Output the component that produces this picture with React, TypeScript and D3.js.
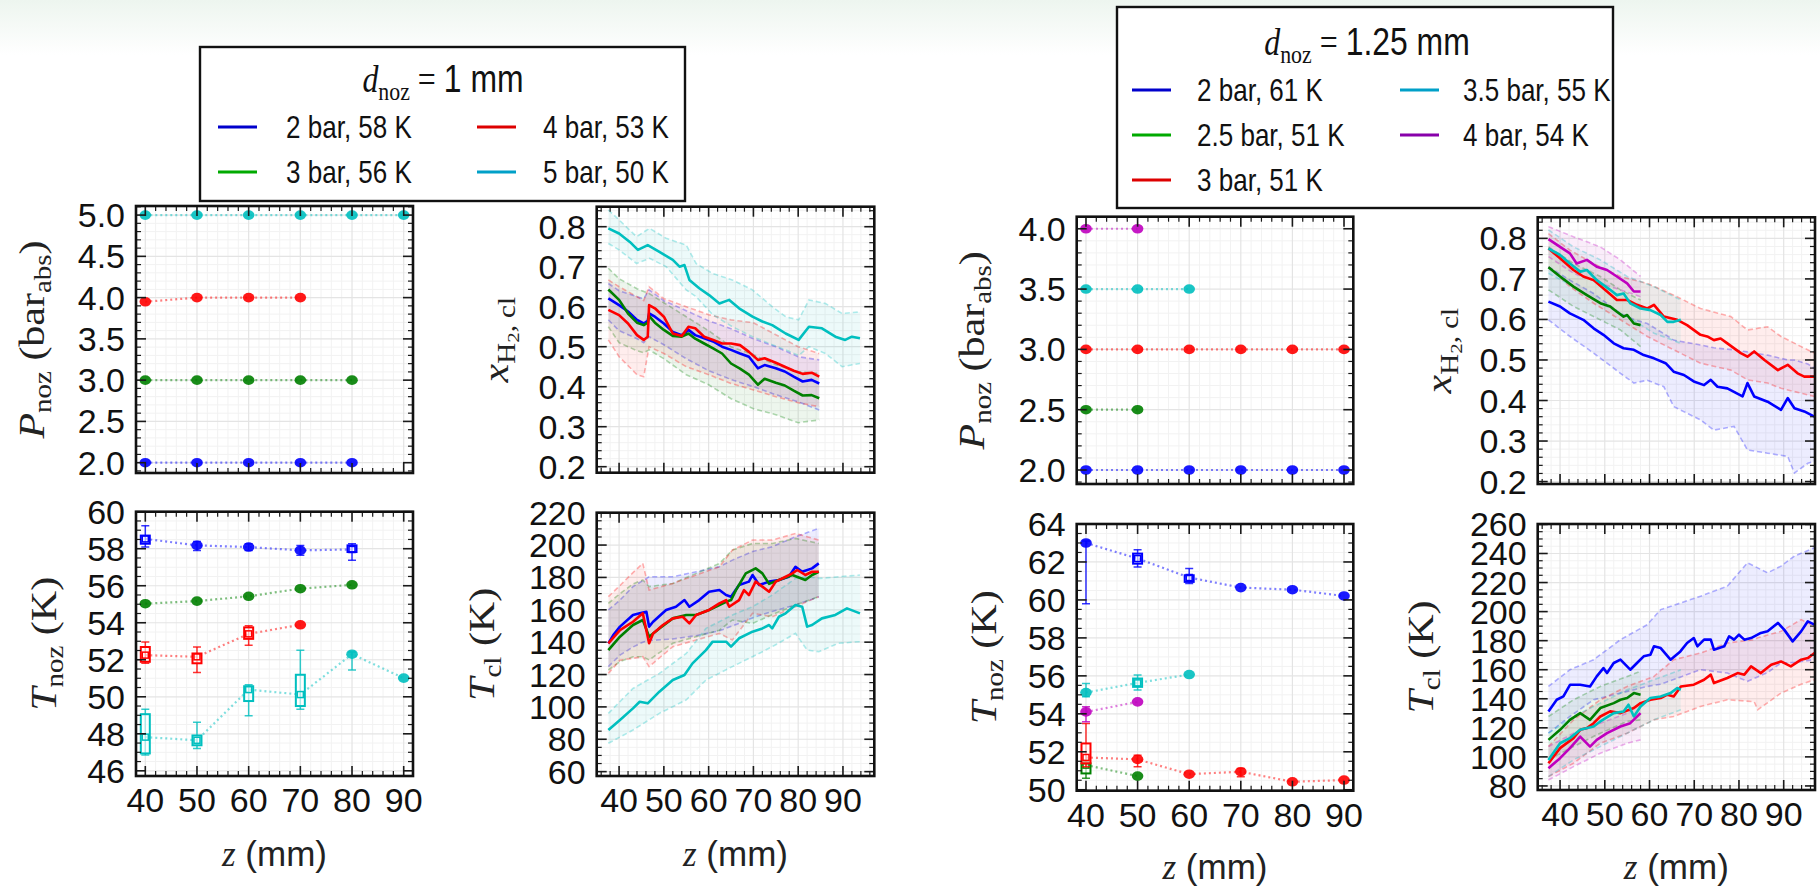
import React from 'react';
import * as d3 from 'd3';

const SANS = "'Liberation Sans', Arial, Helvetica, sans-serif";
const SERIF = "'Liberation Serif', 'Times New Roman', serif";
const BLUE = '#0000ff', GREEN = '#008000', RED = '#ff0000', CYAN = '#00bfbf', MAG = '#bf00bf';
const L_BLUE = '#0000cc', L_GREEN = '#00aa00', L_RED = '#dd0000', L_CYAN = '#00a0c8', L_MAG = '#8800aa';

// ================= DATA =================
const zStations = [40, 50, 60, 70, 80, 90];

// legend labels
const legend1mm = ['2 bar, 58 K', '3 bar, 56 K', '4 bar, 53 K', '5 bar, 50 K'];
const legend125 = ['2 bar, 61 K', '2.5 bar, 51 K', '3 bar, 51 K', '3.5 bar, 55 K', '4 bar, 54 K'];

// tick labels
const xTicksZ = [40, 50, 60, 70, 80, 90];
const yTicksP1 = [2.0, 2.5, 3.0, 3.5, 4.0, 4.5, 5.0];
const yTicksP2 = [2.0, 2.5, 3.0, 3.5, 4.0];
const yTicksT1 = [46, 48, 50, 52, 54, 56, 58, 60];
const yTicksT2 = [50, 52, 54, 56, 58, 60, 62, 64];
const yTicksX = [0.2, 0.3, 0.4, 0.5, 0.6, 0.7, 0.8];
const yTicksC1 = [60, 80, 100, 120, 140, 160, 180, 200, 220];
const yTicksC2 = [80, 100, 120, 140, 160, 180, 200, 220, 240, 260];

// ---- d = 1 mm : nozzle pressure ----
const pnoz1_2bar = [2.0, 2.0, 2.0, 2.0, 2.0];
const pnoz1_3bar = [3.0, 3.0, 3.0, 3.0, 3.0];
const pnoz1_4bar = [3.95, 4.0, 4.0, 4.0];
const pnoz1_5bar = [5.0, 5.0, 5.0, 5.0, 5.0, 5.0];
// ---- d = 1.25 mm : nozzle pressure ----
const pnoz2_2bar = [2.0, 2.0, 2.0, 2.0, 2.0, 2.0];
const pnoz2_25bar = [2.5, 2.5];
const pnoz2_3bar = [3.0, 3.0, 3.0, 3.0, 3.0, 3.0];
const pnoz2_35bar = [3.5, 3.5, 3.5];
const pnoz2_4bar = [4.0, 4.0];

// ---- nozzle temperature: [z, mean, whiskerLo, whiskerHi, boxLo, boxHi] ----
type Pt = (number | null)[];
const tnoz1_2bar: Pt[] = [
  [40, 58.53, 58.09, 59.24, 58.27, 58.71], [50, 58.18, 57.91, 58.39, null, null],
  [60, 58.09, 57.91, 58.27, null, null], [70, 57.91, 57.65, 58.18, null, null],
  [80, 57.96, 57.38, 58.27, 57.82, 58.18]];
const tnoz1_3bar: Pt[] = [[40, 55.03], [50, 55.17], [60, 55.43], [70, 55.84], [80, 56.05]];
const tnoz1_4bar: Pt[] = [
  [40, 52.25, 51.81, 52.96, 51.89, 52.69], [50, 52.16, 51.31, 52.69, 51.81, 52.34],
  [60, 53.4, 52.78, 53.84, 53.13, 53.75], [70, 53.89]];
const tnoz1_5bar: Pt[] = [
  [40, 47.82, 46.85, 49.33, 46.94, 49.06], [50, 47.65, 47.2, 48.62, 47.38, 47.91],
  [60, 50.39, 48.97, 50.65, 49.77, 50.57], [70, 50.12, 49.33, 52.51, 49.5, 51.19],
  [80, 52.3, 51.45, 52.42, null, null], [90, 51.01]];
const tnoz2_2bar: Pt[] = [
  [40, 63.0, 59.8, 63.1, null, null], [50, 62.18, 61.74, 62.65, 61.91, 62.44],
  [60, 61.18, 60.86, 61.65, 60.95, 61.3], [70, 60.65], [80, 60.54], [90, 60.21]];
const tnoz2_25bar: Pt[] = [[40, 51.3, 50.6, 51.56, 50.86, 51.39], [50, 50.72]];
const tnoz2_3bar: Pt[] = [
  [40, 51.7, 51.21, 53.49, 51.39, 52.44], [50, 51.6, 51.21, 51.82, null, null],
  [60, 50.82], [70, 50.95, 50.68, 51.12, null, null], [80, 50.42], [90, 50.51]];
const tnoz2_35bar: Pt[] = [[40, 55.12, 54.9, 55.6, null, null], [50, 55.63, 55.25, 56.04, 55.42, 55.86], [60, 56.07]];
const tnoz2_4bar: Pt[] = [[40, 54.1, 53.58, 54.37, null, null], [50, 54.63]];

// ---- d = 1 mm : x_H2,cl ----
const zXh1 = [37.6, 40, 42, 44, 45.5, 46.4, 46.7, 48, 50, 52, 54, 55.5, 57, 59, 61, 63, 65, 67, 69, 71, 72.5, 75, 77, 79, 81, 83, 84.7];
const xh1_2bar = [0.621, 0.604, 0.588, 0.567, 0.558, 0.565, 0.583, 0.575, 0.558, 0.537, 0.529, 0.542, 0.529, 0.521, 0.513, 0.5, 0.492, 0.483, 0.475, 0.446, 0.454, 0.446, 0.438, 0.425, 0.413, 0.417, 0.408];
const xh1_3bar = [0.643, 0.617, 0.583, 0.56, 0.554, 0.56, 0.577, 0.56, 0.542, 0.527, 0.525, 0.533, 0.52, 0.508, 0.496, 0.483, 0.458, 0.445, 0.43, 0.405, 0.42, 0.41, 0.403, 0.39, 0.378, 0.379, 0.371];
const xh1_4bar = [0.592, 0.579, 0.558, 0.529, 0.517, 0.525, 0.604, 0.596, 0.575, 0.533, 0.527, 0.55, 0.546, 0.525, 0.517, 0.508, 0.508, 0.504, 0.487, 0.467, 0.471, 0.46, 0.45, 0.44, 0.432, 0.435, 0.425];
const zXh1c = [37.6, 40, 42.4, 44.2, 46.4, 49, 52, 53.5, 54.6, 55.7, 57.9, 60.1, 62.4, 64.6, 66.8, 69.8, 72, 74.2, 77.2, 80.1, 82.4, 85.3, 88.3, 90.5, 92, 93.8];
const xh1_5bar = [0.796, 0.783, 0.762, 0.742, 0.754, 0.737, 0.717, 0.70, 0.704, 0.667, 0.646, 0.629, 0.608, 0.617, 0.596, 0.575, 0.563, 0.554, 0.533, 0.517, 0.55, 0.546, 0.525, 0.517, 0.525, 0.521];
const zXh1band = [37.6, 40, 44, 45.5, 46.7, 50, 55, 60, 65, 70, 75, 80, 84.7];
const xh1_2bar_hi = [0.658, 0.64, 0.625, 0.62, 0.642, 0.615, 0.59, 0.565, 0.545, 0.52, 0.5, 0.475, 0.467];
const xh1_2bar_lo = [0.567, 0.54, 0.52, 0.51, 0.525, 0.505, 0.47, 0.44, 0.418, 0.4, 0.38, 0.362, 0.342];
const xh1_3bar_hi = [0.696, 0.67, 0.645, 0.638, 0.633, 0.61, 0.575, 0.54, 0.5, 0.48, 0.455, 0.438, 0.433];
const xh1_3bar_lo = [0.55, 0.51, 0.49, 0.485, 0.492, 0.47, 0.43, 0.405, 0.37, 0.345, 0.33, 0.31, 0.317];
const xh1_4bar_hi = [0.667, 0.65, 0.625, 0.615, 0.65, 0.62, 0.6, 0.58, 0.567, 0.56, 0.53, 0.5, 0.483];
const xh1_4bar_lo = [0.517, 0.475, 0.43, 0.425, 0.5, 0.483, 0.45, 0.43, 0.408, 0.392, 0.375, 0.36, 0.35];
const zXh1cband = [37.6, 40, 43.9, 46.8, 50.5, 55, 57.2, 60.9, 65.3, 69.8, 74.2, 77.2, 80.1, 82.4, 86.1, 89.8, 93.8];
const xh1_5bar_hi = [0.842, 0.817, 0.775, 0.796, 0.771, 0.754, 0.708, 0.683, 0.667, 0.642, 0.6, 0.575, 0.567, 0.617, 0.608, 0.583, 0.587];
const xh1_5bar_lo = [0.758, 0.742, 0.708, 0.721, 0.7, 0.642, 0.625, 0.58, 0.55, 0.525, 0.505, 0.492, 0.478, 0.5, 0.483, 0.45, 0.458];

// ---- d = 1 mm : T_cl ----
const zTc1_2bar = [37.6, 38.7, 40.2, 43.1, 44.6, 46.1, 46.7, 47.6, 50.5, 52.7, 54.6, 55.7, 57.9, 60.1, 62.4, 63.9, 65, 66.8, 69, 69.8, 71.3, 73.5, 75.7, 77.9, 79.4, 80.9, 83.1, 84.6];
const tc1_2bar = [139.3, 144.4, 149.6, 156.8, 157.8, 158.8, 149.6, 152.6, 159.9, 161.9, 166, 161.9, 166, 171.2, 172.2, 169.1, 168.1, 175.3, 177.4, 181.5, 175.3, 177.4, 178.4, 180.4, 186.6, 183.5, 185.6, 188.7];
const zTc1_3bar = [37.6, 40.2, 43.1, 45.3, 46.7, 49, 52, 55, 57.2, 60.1, 63.9, 65, 66.1, 68.3, 70.5, 72, 73.5, 75.7, 78.7, 81.6, 83.1, 84.6];
const tc1_3bar = [135.1, 143.4, 150.6, 153.7, 143.4, 148.5, 154.7, 156.8, 156.8, 159.9, 165, 166, 172.2, 182.5, 185.6, 182.5, 176, 178.4, 181.5, 178.4, 181.5, 183.5];
const zTc1_4bar = [37.6, 40.2, 43.1, 45.3, 46.7, 47.6, 49.8, 52, 54.2, 55.7, 57.2, 60.1, 62.4, 63.9, 64.6, 66.8, 67.9, 69, 70.5, 72, 73.5, 75, 77.2, 78.7, 79.8, 81.6, 83.1, 84.6];
const tc1_4bar = [139.3, 147.5, 152.6, 157.8, 139.3, 145.4, 150.6, 154.7, 155.7, 151.6, 156.8, 159.9, 164, 166, 161.9, 166, 172.2, 169.1, 177.4, 174.3, 171.2, 177.4, 180.4, 182.5, 184.6, 181.5, 183.5, 183.5];
const zTc1_5bar = [37.6, 40.2, 43.1, 44.6, 46.4, 49, 52, 54.6, 56.4, 59.4, 60.9, 63.9, 65, 66.8, 69.8, 72, 73.5, 74.2, 75.7, 77.2, 79.4, 80.9, 82, 83.1, 85.3, 88.3, 90.9, 93.8];
const tc1_5bar = [85.7, 91.9, 99.1, 103.2, 102.2, 109.4, 116.6, 119.7, 126.9, 135.1, 140.3, 140.3, 137.2, 142.4, 146.5, 148.5, 150.6, 148.5, 155.7, 157.8, 162.9, 161.9, 149.6, 150.6, 154.7, 156.8, 160.9, 157.8];
const zTc1band = [37.6, 40.2, 43.1, 45.3, 46.7, 52, 57.2, 62.4, 65.3, 69.8, 74.2, 79.4, 84.6];
const tc1_2bar_hi = [159.9, 166, 174.3, 178, 180.4, 180.4, 183.5, 186.6, 190.7, 196, 199, 205.1, 210.3];
const tc1_2bar_lo = [124.9, 132, 137, 140, 141, 142, 144, 147, 150, 155, 159, 163, 168];
const tc1_3bar_hi = [164, 170, 176, 178.4, 174.3, 176.3, 182.5, 188.6, 196.9, 201, 201, 204.1, 201];
const tc1_3bar_lo = [122.8, 128, 131, 131, 129, 139.3, 143.4, 147.4, 153.7, 151.6, 157, 163, 168.1];
const tc1_4bar_hi = [168.1, 175, 183, 188.7, 172.2, 176.3, 181.5, 186.6, 196.9, 203.1, 203.1, 207.2, 203.1];
const tc1_4bar_lo = [120.7, 128.9, 130, 131, 124.9, 137.2, 141.3, 145.4, 141.3, 157.8, 155.7, 161.9, 168.1];
const zTc1cband = [37.6, 43.1, 49, 55, 59.4, 65.3, 69.8, 74.2, 79.4, 82, 84.6, 89, 93.8];
const tc1_5bar_hi = [96, 111.4, 120.7, 133, 148.5, 156.8, 161.9, 169.1, 179.4, 180.4, 179.4, 180.4, 181.5];
const tc1_5bar_lo = [77.5, 85.7, 96, 104.3, 116.6, 124.9, 131, 137.2, 145.4, 135.1, 134.1, 139.3, 140.3];

// ---- d = 1.25 mm : x_H2,cl ----
const zXh2_2bar = [37.4, 40, 42.2, 45.2, 47.5, 49.7, 52, 54.2, 56.5, 58.7, 61, 63.6, 65.4, 67.7, 69.9, 72.2, 73.7, 75.2, 77.4, 80.8, 81.9, 83.4, 86.4, 89.4, 90.9, 92.4, 94.6, 96.9];
const xh2_2bar = [0.644, 0.632, 0.615, 0.599, 0.578, 0.562, 0.541, 0.529, 0.525, 0.512, 0.504, 0.492, 0.471, 0.463, 0.447, 0.438, 0.451, 0.434, 0.43, 0.41, 0.443, 0.41, 0.397, 0.377, 0.406, 0.381, 0.373, 0.36];
const zXh2_25bar = [37.4, 40, 43, 46, 49, 51.2, 52.7, 54.2, 55, 56.5, 58];
const xh2_25bar = [0.729, 0.706, 0.681, 0.66, 0.64, 0.632, 0.619, 0.607, 0.611, 0.59, 0.586];
const zXh2_3bar = [37.4, 40, 43, 45.2, 47.5, 50.5, 52.7, 55, 57.2, 59.5, 61, 63.2, 66.2, 68.4, 71.4, 72.9, 74.4, 75.9, 77.4, 80.4, 81.9, 83.4, 85.7, 88.7, 90.9, 93.1, 94.6, 96.9];
const xh2_3bar = [0.775, 0.751, 0.722, 0.706, 0.697, 0.669, 0.648, 0.648, 0.636, 0.627, 0.636, 0.607, 0.599, 0.586, 0.562, 0.558, 0.549, 0.553, 0.541, 0.517, 0.508, 0.521, 0.5, 0.475, 0.488, 0.467, 0.459, 0.459];
const zXh2_35bar = [37.4, 40, 42.2, 44.5, 46, 48.2, 51.2, 52.7, 54.2, 55.7, 58, 60.2, 62.5, 64, 65.4, 67];
const xh2_35bar = [0.775, 0.759, 0.738, 0.718, 0.722, 0.697, 0.673, 0.66, 0.664, 0.64, 0.627, 0.623, 0.611, 0.594, 0.594, 0.599];
const zXh2_4bar = [37.4, 40, 42.2, 43.7, 46, 48.2, 50.5, 52.7, 55, 56.5, 58];
const xh2_4bar = [0.798, 0.779, 0.763, 0.738, 0.747, 0.73, 0.722, 0.706, 0.689, 0.669, 0.669];
const zXh2band_2bar = [37.4, 42.2, 47.5, 53.5, 56.5, 59.5, 63.2, 65.4, 71.4, 74.4, 78.9, 81.9, 86.4, 90.9, 92.4, 95.4, 96.9];
const xh2_2bar_hi = [0.73, 0.697, 0.664, 0.615, 0.6, 0.59, 0.565, 0.549, 0.537, 0.53, 0.525, 0.52, 0.512, 0.5, 0.5, 0.49, 0.48];
const xh2_2bar_lo = [0.599, 0.558, 0.517, 0.467, 0.443, 0.45, 0.434, 0.385, 0.352, 0.327, 0.336, 0.278, 0.27, 0.262, 0.221, 0.245, 0.25];
const zXh2band_3bar = [37.4, 42.2, 47.5, 53.5, 59.5, 65.4, 71.4, 78.2, 81.9, 86.4, 89.4, 93.9, 96.9];
const xh2_3bar_hi = [0.812, 0.771, 0.738, 0.706, 0.689, 0.66, 0.627, 0.607, 0.574, 0.582, 0.558, 0.533, 0.517];
const xh2_3bar_lo = [0.73, 0.681, 0.64, 0.599, 0.558, 0.525, 0.492, 0.475, 0.451, 0.443, 0.43, 0.418, 0.41];
const zXh2band_short = [37.4, 43, 49, 53.5, 58];
const xh2_25bar_hi = [0.779, 0.738, 0.706, 0.673, 0.648];
const xh2_25bar_lo = [0.673, 0.632, 0.599, 0.574, 0.533];
const xh2_4bar_hi = [0.829, 0.804, 0.779, 0.747, 0.706];
const xh2_4bar_lo = [0.755, 0.714, 0.689, 0.673, 0.656];
const zXh2band_35bar = [37.4, 43, 49, 55, 61, 67];
const xh2_35bar_hi = [0.821, 0.779, 0.747, 0.706, 0.681, 0.648];
const xh2_35bar_lo = [0.714, 0.681, 0.64, 0.607, 0.566, 0.541];

// ---- d = 1.25 mm : T_cl ----
const zTc2_2bar = [37.4, 39.25, 40.75, 42.25, 44.5, 46.7, 48.2, 49.7, 50.5, 52, 53.5, 55.7, 57.2, 58.7, 60.2, 61, 62.5, 64.7, 66.9, 68.4, 69.9, 70.7, 72.2, 73.7, 74.4, 76.7, 77.8, 78.9, 80, 81.2, 82.7, 84.9, 86.4, 88.7, 90.1, 92, 93.9, 95.4, 96.9];
const tc2_2bar = [131.3, 139.3, 141.6, 149.7, 149.7, 148.5, 155.4, 161.1, 157.7, 164.6, 166.9, 160, 164.6, 169.2, 170.3, 176.1, 174.9, 166.9, 172.6, 178.4, 181.8, 176.1, 180.7, 180.7, 173.8, 176.1, 183, 180.7, 184.1, 180.7, 181.8, 185.3, 186.4, 192.2, 187.6, 179.5, 186.4, 193.3, 191];
const zTc2_25bar = [37.4, 40, 42.2, 44.5, 46.7, 49, 52, 53.5, 55, 56.5, 58];
const tc2_25bar = [111.7, 118.6, 125.5, 130.1, 125.5, 133.6, 137, 139.3, 140.5, 143.9, 142.8];
const zTc2_3bar = [37.4, 40, 43, 44.5, 46, 47.5, 49, 51.2, 53.5, 56.5, 58, 60.2, 62.5, 64, 65.4, 67, 69.9, 72.2, 73.7, 74.4, 77.4, 79.7, 81.2, 82.7, 84.9, 87.2, 89.4, 91.6, 93.9, 95.4, 96.9];
const tc2_3bar = [95.6, 106, 112.9, 118.6, 119.8, 123.2, 127.8, 131.3, 130.1, 133.6, 137, 139.3, 140.5, 142.8, 141.6, 148.5, 149.7, 153.1, 156.6, 150.8, 154.3, 157.7, 156.6, 162.3, 157.7, 163.4, 165.7, 162.3, 166.9, 168, 171.5];
const zTc2_35bar = [37.4, 40, 42.2, 44.5, 47.5, 49, 52, 54.2, 55.3, 56.5, 58, 60.2, 62.5, 64.7, 66.2, 67];
const tc2_35bar = [97.9, 109.4, 112.9, 118.6, 120.9, 124.4, 130.1, 131.3, 135.9, 127.8, 134.7, 140.5, 141.6, 143.9, 147.4, 146.2];
const zTc2_4bar = [37.4, 40, 42.2, 44.5, 46.7, 48.2, 50.5, 53.5, 55.7, 58];
const tc2_4bar = [92.2, 99.1, 106, 114, 107.1, 111.7, 116.3, 120.9, 123.2, 130.1];
const zTc2band_2bar = [37.4, 42.2, 47.5, 53.5, 59.5, 62.5, 67, 71.4, 77.4, 81.9, 86.4, 89.4, 92.4, 96.9];
const tc2_2bar_hi = [148.5, 160, 166.9, 180.7, 191, 201.4, 206, 210.6, 217.5, 233.6, 226.7, 231.3, 238.2, 244];
const tc2_2bar_lo = [116.3, 127.8, 139.3, 143.9, 148.5, 150, 155, 160, 157.7, 152, 158, 164.6, 165, 166.9];
const zTc2band_3bar = [37.4, 43, 49, 55, 61, 65.4, 71.4, 77.4, 83.4, 84.2, 89.4, 93.9, 96.9];
const tc2_3bar_hi = [107.1, 125.5, 139.3, 148.5, 155.4, 166.9, 171.5, 178.4, 180.7, 182, 186.4, 194.5, 190];
const tc2_3bar_lo = [86.4, 95.6, 109.4, 116.3, 125.5, 127.8, 134.7, 139.3, 138, 132.4, 143.9, 150, 153.1];
const zTc2band_short = [37.4, 43, 49, 55, 58];
const tc2_25bar_hi = [127.8, 139.3, 148.5, 155.4, 158.9];
const tc2_25bar_lo = [97.9, 107.1, 116.3, 124.4, 125.5];
const tc2_4bar_hi = [107.1, 116.3, 123.2, 130.1, 137];
const tc2_4bar_lo = [84.1, 93.3, 102.5, 109.4, 111.7];
const zTc2band_35bar = [37.4, 43, 49, 55, 61, 67];
const tc2_35bar_hi = [116.3, 127.8, 137, 146.2, 153.1, 160];
const tc2_35bar_lo = [86.4, 97.9, 107.1, 116.3, 125.5, 132.4];

// ================= LAYOUT =================
type Box = { x: number; y: number; w: number; h: number };
const B = {
  p1: { x: 136, y: 206, w: 277, h: 267 },
  t1: { x: 136, y: 511.7, w: 277, h: 264.3 },
  x1: { x: 596.7, y: 206.7, w: 277.6, h: 266 },
  c1: { x: 596.7, y: 512.7, w: 277.6, h: 263.3 },
  p2: { x: 1076.7, y: 216.7, w: 276.6, h: 267.3 },
  t2: { x: 1076.7, y: 524, w: 276.6, h: 266.7 },
  x2: { x: 1537.7, y: 217.3, w: 277.3, h: 266.7 },
  c2: { x: 1537.7, y: 524, w: 277.3, h: 266 },
};
const xDomPts: [number, number] = [38.2, 91.8];
const xDomLines: [number, number] = [35, 97];
const TICK_FS = 34;

const sx = (b: Box, dom: [number, number]) => d3.scaleLinear().domain(dom).range([b.x, b.x + b.w]);
const sy = (b: Box, dom: [number, number]) => d3.scaleLinear().domain(dom).range([b.y + b.h, b.y]);

type Scale = d3.ScaleLinear<number, number>;

function minorTicks(dom: number[], step: number, major: number[]) {
  const i0 = Math.ceil(dom[0] / step - 1e-6), i1 = Math.floor(dom[1] / step + 1e-6);
  return d3.range(i0, i1 + 1).map(i => +(i * step).toFixed(6))
    .filter(v => !major.some(m => Math.abs(m - v) < step / 10));
}

function Frame(props: {
  id: string; b: Box; xs: Scale; ys: Scale; xMajor: number[]; xMinorStep: number;
  yMajor: number[]; yMinorStep: number; yFmt: (v: number) => string; showX: boolean; children?: React.ReactNode;
}) {
  const { id, b, xs, ys, xMajor, xMinorStep, yMajor, yMinorStep, yFmt, showX, children } = props;
  const x0 = b.x, x1 = b.x + b.w, y0 = b.y, y1 = b.y + b.h;
  const xd = xs.domain(), yd = ys.domain();
  const xMaj = xMajor.filter(v => v >= xd[0] - 1e-6 && v <= xd[1] + 1e-6);
  const yMaj = yMajor.filter(v => v >= yd[0] - 1e-6 && v <= yd[1] + 1e-6);
  const xMin = minorTicks(xd, xMinorStep, xMajor);
  const yMin = minorTicks(yd, yMinorStep, yMajor);
  const tk = '#1a1a1a';
  return (
    <g>
      <clipPath id={id}><rect x={x0} y={y0} width={b.w} height={b.h} /></clipPath>
      <rect x={x0} y={y0} width={b.w} height={b.h} fill="#fff" />
      {xMin.map(v => <line key={'gxm' + v} x1={xs(v)} x2={xs(v)} y1={y0} y2={y1} stroke="#f2f2f2" strokeWidth={1} />)}
      {yMin.map(v => <line key={'gym' + v} y1={ys(v)} y2={ys(v)} x1={x0} x2={x1} stroke="#f2f2f2" strokeWidth={1} />)}
      {xMaj.map(v => <line key={'gx' + v} x1={xs(v)} x2={xs(v)} y1={y0} y2={y1} stroke="#e4e4e4" strokeWidth={1.2} />)}
      {yMaj.map(v => <line key={'gy' + v} y1={ys(v)} y2={ys(v)} x1={x0} x2={x1} stroke="#e4e4e4" strokeWidth={1.2} />)}
      <g clipPath={`url(#${id})`}>{children}</g>
      {xMaj.map(v => <g key={'tx' + v}>
        <line x1={xs(v)} x2={xs(v)} y1={y1} y2={y1 - 10} stroke={tk} strokeWidth={1.6} />
        <line x1={xs(v)} x2={xs(v)} y1={y0} y2={y0 + 10} stroke={tk} strokeWidth={1.6} />
      </g>)}
      {xMin.map(v => <g key={'txm' + v}>
        <line x1={xs(v)} x2={xs(v)} y1={y1} y2={y1 - 5} stroke={tk} strokeWidth={1.2} />
        <line x1={xs(v)} x2={xs(v)} y1={y0} y2={y0 + 5} stroke={tk} strokeWidth={1.2} />
      </g>)}
      {yMaj.map(v => <g key={'ty' + v}>
        <line y1={ys(v)} y2={ys(v)} x1={x0} x2={x0 + 10} stroke={tk} strokeWidth={1.6} />
        <line y1={ys(v)} y2={ys(v)} x1={x1} x2={x1 - 10} stroke={tk} strokeWidth={1.6} />
      </g>)}
      {yMin.map(v => <g key={'tym' + v}>
        <line y1={ys(v)} y2={ys(v)} x1={x0} x2={x0 + 5} stroke={tk} strokeWidth={1.2} />
        <line y1={ys(v)} y2={ys(v)} x1={x1} x2={x1 - 5} stroke={tk} strokeWidth={1.2} />
      </g>)}
      <rect x={x0} y={y0} width={b.w} height={b.h} fill="none" stroke="#111" strokeWidth={2.6} />
      {yMaj.map(v => <text key={'ly' + v} x={x0 - 11} y={ys(v) + 12} textAnchor="end"
        fontFamily={SANS} fontSize={TICK_FS} fill="#111">{yFmt(v)}</text>)}
      {showX && xMaj.map(v => <text key={'lx' + v} x={xs(v)} y={y1 + 36} textAnchor="middle"
        fontFamily={SANS} fontSize={TICK_FS} fill="#111">{String(v)}</text>)}
    </g>
  );
}

function Points({ xs, ys, pts, color }: { xs: Scale; ys: Scale; pts: Pt[]; color: string }) {
  const d = d3.line<Pt>().x(p => xs(p[0] as number)).y(p => ys(p[1] as number))(pts) || '';
  return (
    <g>
      <path d={d} fill="none" stroke={color} strokeOpacity={0.5} strokeWidth={2.2} strokeDasharray="2 3" />
      {pts.map((p, i) => {
        const cx = xs(p[0] as number), cy = ys(p[1] as number);
        const hasW = p.length > 2 && p[2] != null;
        const hasB = p.length > 4 && p[4] != null;
        return (
          <g key={i}>
            {hasW && <g stroke={color} strokeWidth={1.5} strokeOpacity={0.8}>
              <line x1={cx} x2={cx} y1={ys(p[2] as number)} y2={ys(p[3] as number)} />
              <line x1={cx - 4} x2={cx + 4} y1={ys(p[2] as number)} y2={ys(p[2] as number)} />
              <line x1={cx - 4} x2={cx + 4} y1={ys(p[3] as number)} y2={ys(p[3] as number)} />
            </g>}
            {hasB ? <g>
              <rect x={cx - 4.5} y={ys(p[5] as number)} width={9} height={ys(p[4] as number) - ys(p[5] as number)}
                fill="#fff" fillOpacity={0.6} stroke={color} strokeWidth={2} />
              <rect x={cx - 3} y={cy - 3} width={6} height={6} fill="none" stroke={color} strokeWidth={1.5} />
            </g> : <ellipse cx={cx} cy={cy} rx={5.8} ry={4.8} fill={color} fillOpacity={0.9} />}
          </g>
        );
      })}
    </g>
  );
}

function toPts(vals: number[]): Pt[] { return vals.map((v, i) => [zStations[i], v]); }

function Band({ xs, ys, z, lo, hi, color }: { xs: Scale; ys: Scale; z: number[]; lo: number[]; hi: number[]; color: string }) {
  const area = d3.area<number>().x((_, i) => xs(z[i])).y0((_, i) => ys(lo[i])).y1((_, i) => ys(hi[i]))(z) || '';
  const lLo = d3.line<number>().x((_, i) => xs(z[i])).y((_, i) => ys(lo[i]))(z) || '';
  const lHi = d3.line<number>().x((_, i) => xs(z[i])).y((_, i) => ys(hi[i]))(z) || '';
  return (
    <g>
      <path d={area} fill={color} fillOpacity={0.07} />
      <path d={lLo} fill="none" stroke={color} strokeOpacity={0.3} strokeWidth={1.6} strokeDasharray="5 3" />
      <path d={lHi} fill="none" stroke={color} strokeOpacity={0.3} strokeWidth={1.6} strokeDasharray="5 3" />
    </g>
  );
}

function Line({ xs, ys, z, v, color }: { xs: Scale; ys: Scale; z: number[]; v: number[]; color: string }) {
  const d = d3.line<number>().x((_, i) => xs(z[i])).y((_, i) => ys(v[i]))(z) || '';
  return <path d={d} fill="none" stroke={color} strokeWidth={2.6} strokeLinejoin="round" />;
}

function RotLabel({ cx, cy, children }: { cx: number; cy: number; children: React.ReactNode }) {
  const fs = 42;
  return (
    <text transform={`translate(${cx + 0.3 * fs * 0.84},${cy}) scale(0.84,1) rotate(-90)`} textAnchor="middle"
      fontFamily={SERIF} fontSize={fs} fill="#222">{children}</text>
  );
}

function XLabel({ cx, y }: { cx: number; y: number }) {
  return (
    <text x={cx} y={y} textAnchor="middle" fontSize={35} fill="#222">
      <tspan fontFamily={SERIF} fontStyle="italic">z</tspan>
      <tspan fontFamily={SANS}> (mm)</tspan>
    </text>
  );
}

const lblP = (<>
  <tspan fontStyle="italic">P</tspan><tspan fontSize={29} dy={9}>noz</tspan>
  <tspan dy={-9}> (bar</tspan><tspan fontSize={29} dy={9}>abs</tspan><tspan dy={-9}>)</tspan>
</>);
const lblTnoz = (<>
  <tspan fontStyle="italic">T</tspan><tspan fontSize={29} dy={9}>noz</tspan><tspan dy={-9}> (K)</tspan>
</>);
const lblX = (<>
  <tspan fontStyle="italic">x</tspan><tspan fontSize={29} dy={9}>H</tspan><tspan fontSize={21} dy={5}>2</tspan>
  <tspan fontSize={29} dy={-5}>, cl</tspan>
</>);
const lblTcl = (<>
  <tspan fontStyle="italic">T</tspan><tspan fontSize={29} dy={9}>cl</tspan><tspan dy={-9}> (K)</tspan>
</>);

function Legend(props: {
  box: Box; titleCx: number; titleY: number; size: string; labels: string[]; colors: string[];
  rows: number[]; colHx: number[]; colTx: number[]; perCol: number;
}) {
  const { box, titleCx, titleY, size, labels, colors, rows, colHx, colTx, perCol } = props;
  return (
    <g>
      <rect x={box.x} y={box.y} width={box.w} height={box.h} fill="#fff" stroke="#111" strokeWidth={2.4} />
      <g transform={`translate(${titleCx},${titleY}) scale(0.84,1)`}>
        <text textAnchor="middle" fontSize={38} fill="#111">
          <tspan fontFamily={SERIF} fontStyle="italic">d</tspan>
          <tspan fontFamily={SERIF} fontSize={26} dy={8}>noz</tspan>
          <tspan fontFamily={SERIF} dy={-8}>{' = '}</tspan>
          <tspan fontFamily={SANS}>{size}</tspan>
        </text>
      </g>
      {labels.map((lab, i) => {
        const c = Math.floor(i / perCol), r = i % perCol;
        const y = rows[r];
        return (
          <g key={lab}>
            <line x1={colHx[c]} x2={colHx[c] + 39} y1={y} y2={y} stroke={colors[i]} strokeWidth={3} />
            <g transform={`translate(${colTx[c]},${y + 11}) scale(0.84,1)`}>
              <text fontFamily={SANS} fontSize={31} fill="#111">{lab}</text>
            </g>
          </g>
        );
      })}
    </g>
  );
}

export default function App() {
  const f1 = d3.format('.1f');
  const fi = (v: number) => String(v);

  const p1x = sx(B.p1, xDomPts), p1y = sy(B.p1, [1.875, 5.11]);
  const t1x = sx(B.t1, xDomPts), t1y = sy(B.t1, [45.72, 60]);
  const x1x = sx(B.x1, xDomLines), x1y = sy(B.x1, [0.185, 0.85]);
  const c1x = sx(B.c1, xDomLines), c1y = sy(B.c1, [57.3, 220]);
  const p2x = sx(B.p2, xDomPts), p2y = sy(B.p2, [1.884, 4.10]);
  const t2x = sx(B.t2, xDomPts), t2y = sy(B.t2, [49.95, 64]);
  const x2x = sx(B.x2, xDomLines), x2y = sy(B.x2, [0.194, 0.852]);
  const c2x = sx(B.c2, xDomLines), c2y = sy(B.c2, [77.2, 260.3]);

  return (
    <svg width={1820} height={887} style={{ position: 'absolute', left: 0, top: 0, background: '#fff' }}>
      <defs>
        <linearGradient id="bgTop" x1="0" y1="0" x2="0" y2="1">
          <stop offset="0" stopColor="#edf5ef" />
          <stop offset="1" stopColor="#ffffff" />
        </linearGradient>
      </defs>
      <rect x={0} y={0} width={1820} height={887} fill="#fff" />
      <rect x={0} y={0} width={1820} height={55} fill="url(#bgTop)" />

      {/* ---------- d = 1 mm ---------- */}
      <Frame id="cp1" b={B.p1} xs={p1x} ys={p1y} xMajor={xTicksZ} xMinorStep={2} yMajor={yTicksP1} yMinorStep={0.1} yFmt={f1} showX={false}>
        <Points xs={p1x} ys={p1y} pts={toPts(pnoz1_2bar)} color={BLUE} />
        <Points xs={p1x} ys={p1y} pts={toPts(pnoz1_3bar)} color={GREEN} />
        <Points xs={p1x} ys={p1y} pts={toPts(pnoz1_4bar)} color={RED} />
        <Points xs={p1x} ys={p1y} pts={toPts(pnoz1_5bar)} color={CYAN} />
      </Frame>
      <Frame id="ct1" b={B.t1} xs={t1x} ys={t1y} xMajor={xTicksZ} xMinorStep={2} yMajor={yTicksT1} yMinorStep={0.5} yFmt={fi} showX={true}>
        <Points xs={t1x} ys={t1y} pts={tnoz1_2bar} color={BLUE} />
        <Points xs={t1x} ys={t1y} pts={tnoz1_3bar} color={GREEN} />
        <Points xs={t1x} ys={t1y} pts={tnoz1_4bar} color={RED} />
        <Points xs={t1x} ys={t1y} pts={tnoz1_5bar} color={CYAN} />
      </Frame>
      <Frame id="cx1" b={B.x1} xs={x1x} ys={x1y} xMajor={xTicksZ} xMinorStep={2} yMajor={yTicksX} yMinorStep={0.02} yFmt={f1} showX={false}>
        <Band xs={x1x} ys={x1y} z={zXh1band} lo={xh1_2bar_lo} hi={xh1_2bar_hi} color={BLUE} />
        <Band xs={x1x} ys={x1y} z={zXh1band} lo={xh1_3bar_lo} hi={xh1_3bar_hi} color={GREEN} />
        <Band xs={x1x} ys={x1y} z={zXh1band} lo={xh1_4bar_lo} hi={xh1_4bar_hi} color={RED} />
        <Band xs={x1x} ys={x1y} z={zXh1cband} lo={xh1_5bar_lo} hi={xh1_5bar_hi} color={CYAN} />
        <Line xs={x1x} ys={x1y} z={zXh1} v={xh1_2bar} color={BLUE} />
        <Line xs={x1x} ys={x1y} z={zXh1} v={xh1_3bar} color={GREEN} />
        <Line xs={x1x} ys={x1y} z={zXh1} v={xh1_4bar} color={RED} />
        <Line xs={x1x} ys={x1y} z={zXh1c} v={xh1_5bar} color={CYAN} />
      </Frame>
      <Frame id="cc1" b={B.c1} xs={c1x} ys={c1y} xMajor={xTicksZ} xMinorStep={2} yMajor={yTicksC1} yMinorStep={5} yFmt={fi} showX={true}>
        <Band xs={c1x} ys={c1y} z={zTc1band} lo={tc1_2bar_lo} hi={tc1_2bar_hi} color={BLUE} />
        <Band xs={c1x} ys={c1y} z={zTc1band} lo={tc1_3bar_lo} hi={tc1_3bar_hi} color={GREEN} />
        <Band xs={c1x} ys={c1y} z={zTc1band} lo={tc1_4bar_lo} hi={tc1_4bar_hi} color={RED} />
        <Band xs={c1x} ys={c1y} z={zTc1cband} lo={tc1_5bar_lo} hi={tc1_5bar_hi} color={CYAN} />
        <Line xs={c1x} ys={c1y} z={zTc1_2bar} v={tc1_2bar} color={BLUE} />
        <Line xs={c1x} ys={c1y} z={zTc1_3bar} v={tc1_3bar} color={GREEN} />
        <Line xs={c1x} ys={c1y} z={zTc1_4bar} v={tc1_4bar} color={RED} />
        <Line xs={c1x} ys={c1y} z={zTc1_5bar} v={tc1_5bar} color={CYAN} />
      </Frame>

      {/* ---------- d = 1.25 mm ---------- */}
      <Frame id="cp2" b={B.p2} xs={p2x} ys={p2y} xMajor={xTicksZ} xMinorStep={2} yMajor={yTicksP2} yMinorStep={0.1} yFmt={f1} showX={false}>
        <Points xs={p2x} ys={p2y} pts={toPts(pnoz2_2bar)} color={BLUE} />
        <Points xs={p2x} ys={p2y} pts={toPts(pnoz2_25bar)} color={GREEN} />
        <Points xs={p2x} ys={p2y} pts={toPts(pnoz2_3bar)} color={RED} />
        <Points xs={p2x} ys={p2y} pts={toPts(pnoz2_35bar)} color={CYAN} />
        <Points xs={p2x} ys={p2y} pts={toPts(pnoz2_4bar)} color={MAG} />
      </Frame>
      <Frame id="ct2" b={B.t2} xs={t2x} ys={t2y} xMajor={xTicksZ} xMinorStep={2} yMajor={yTicksT2} yMinorStep={0.5} yFmt={fi} showX={true}>
        <Points xs={t2x} ys={t2y} pts={tnoz2_2bar} color={BLUE} />
        <Points xs={t2x} ys={t2y} pts={tnoz2_25bar} color={GREEN} />
        <Points xs={t2x} ys={t2y} pts={tnoz2_3bar} color={RED} />
        <Points xs={t2x} ys={t2y} pts={tnoz2_35bar} color={CYAN} />
        <Points xs={t2x} ys={t2y} pts={tnoz2_4bar} color={MAG} />
      </Frame>
      <Frame id="cx2" b={B.x2} xs={x2x} ys={x2y} xMajor={xTicksZ} xMinorStep={2} yMajor={yTicksX} yMinorStep={0.02} yFmt={f1} showX={false}>
        <Band xs={x2x} ys={x2y} z={zXh2band_2bar} lo={xh2_2bar_lo} hi={xh2_2bar_hi} color={BLUE} />
        <Band xs={x2x} ys={x2y} z={zXh2band_short} lo={xh2_25bar_lo} hi={xh2_25bar_hi} color={GREEN} />
        <Band xs={x2x} ys={x2y} z={zXh2band_3bar} lo={xh2_3bar_lo} hi={xh2_3bar_hi} color={RED} />
        <Band xs={x2x} ys={x2y} z={zXh2band_35bar} lo={xh2_35bar_lo} hi={xh2_35bar_hi} color={CYAN} />
        <Band xs={x2x} ys={x2y} z={zXh2band_short} lo={xh2_4bar_lo} hi={xh2_4bar_hi} color={MAG} />
        <Line xs={x2x} ys={x2y} z={zXh2_2bar} v={xh2_2bar} color={BLUE} />
        <Line xs={x2x} ys={x2y} z={zXh2_25bar} v={xh2_25bar} color={GREEN} />
        <Line xs={x2x} ys={x2y} z={zXh2_3bar} v={xh2_3bar} color={RED} />
        <Line xs={x2x} ys={x2y} z={zXh2_35bar} v={xh2_35bar} color={CYAN} />
        <Line xs={x2x} ys={x2y} z={zXh2_4bar} v={xh2_4bar} color={MAG} />
      </Frame>
      <Frame id="cc2" b={B.c2} xs={c2x} ys={c2y} xMajor={xTicksZ} xMinorStep={2} yMajor={yTicksC2} yMinorStep={5} yFmt={fi} showX={true}>
        <Band xs={c2x} ys={c2y} z={zTc2band_2bar} lo={tc2_2bar_lo} hi={tc2_2bar_hi} color={BLUE} />
        <Band xs={c2x} ys={c2y} z={zTc2band_short} lo={tc2_25bar_lo} hi={tc2_25bar_hi} color={GREEN} />
        <Band xs={c2x} ys={c2y} z={zTc2band_3bar} lo={tc2_3bar_lo} hi={tc2_3bar_hi} color={RED} />
        <Band xs={c2x} ys={c2y} z={zTc2band_35bar} lo={tc2_35bar_lo} hi={tc2_35bar_hi} color={CYAN} />
        <Band xs={c2x} ys={c2y} z={zTc2band_short} lo={tc2_4bar_lo} hi={tc2_4bar_hi} color={MAG} />
        <Line xs={c2x} ys={c2y} z={zTc2_2bar} v={tc2_2bar} color={BLUE} />
        <Line xs={c2x} ys={c2y} z={zTc2_25bar} v={tc2_25bar} color={GREEN} />
        <Line xs={c2x} ys={c2y} z={zTc2_3bar} v={tc2_3bar} color={RED} />
        <Line xs={c2x} ys={c2y} z={zTc2_35bar} v={tc2_35bar} color={CYAN} />
        <Line xs={c2x} ys={c2y} z={zTc2_4bar} v={tc2_4bar} color={MAG} />
      </Frame>

      {/* axis labels */}
      <RotLabel cx={33} cy={B.p1.y + B.p1.h / 2}>{lblP}</RotLabel>
      <RotLabel cx={45} cy={B.t1.y + B.t1.h / 2}>{lblTnoz}</RotLabel>
      <RotLabel cx={497} cy={B.x1.y + B.x1.h / 2}>{lblX}</RotLabel>
      <RotLabel cx={483} cy={B.c1.y + B.c1.h / 2}>{lblTcl}</RotLabel>
      <RotLabel cx={973} cy={B.p2.y + B.p2.h / 2}>{lblP}</RotLabel>
      <RotLabel cx={985} cy={B.t2.y + B.t2.h / 2}>{lblTnoz}</RotLabel>
      <RotLabel cx={1440} cy={B.x2.y + B.x2.h / 2}>{lblX}</RotLabel>
      <RotLabel cx={1422} cy={B.c2.y + B.c2.h / 2}>{lblTcl}</RotLabel>
      <XLabel cx={B.t1.x + B.t1.w / 2} y={866} />
      <XLabel cx={B.c1.x + B.c1.w / 2} y={866} />
      <XLabel cx={B.t2.x + B.t2.w / 2} y={879} />
      <XLabel cx={B.c2.x + B.c2.w / 2} y={879} />

      {/* legends */}
      <Legend box={{ x: 200, y: 47, w: 485, h: 154 }} titleCx={443} titleY={92} size="1 mm"
        labels={legend1mm} colors={[L_BLUE, L_GREEN, L_RED, L_CYAN]} rows={[127, 172]}
        colHx={[218, 477]} colTx={[286, 543]} perCol={2} />
      <Legend box={{ x: 1117, y: 7, w: 496, h: 201 }} titleCx={1367} titleY={55} size="1.25 mm"
        labels={legend125} colors={[L_BLUE, L_GREEN, L_RED, L_CYAN, L_MAG]} rows={[90, 135, 180]}
        colHx={[1132, 1400]} colTx={[1197, 1463]} perCol={3} />
    </svg>
  );
}
